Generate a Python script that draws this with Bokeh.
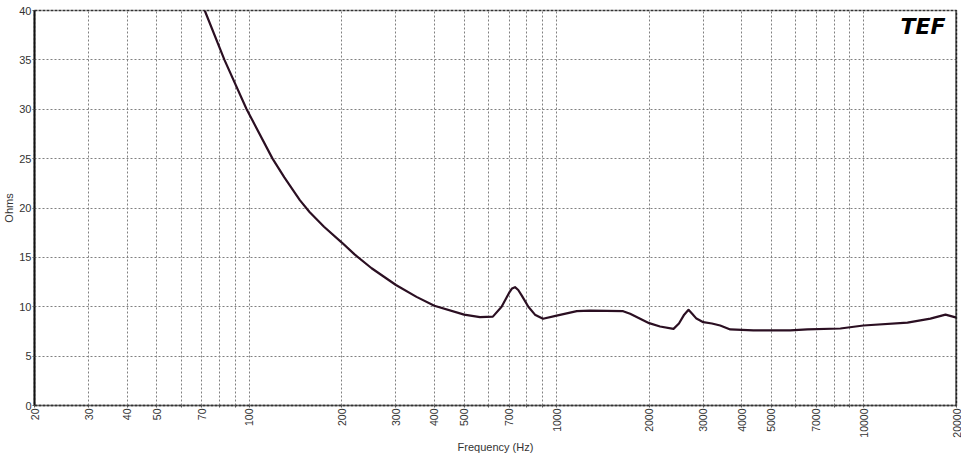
import math
from bokeh.plotting import figure
from bokeh.models import FixedTicker, Label, Span, ColumnDataSource
from bokeh.embed import file_html
from bokeh.resources import INLINE

# ---- data ----
freq_hz = [65, 71.6, 83, 98, 119, 130, 146, 157, 175, 200, 220, 250, 300, 350, 400, 500, 563, 620,
           662, 700, 716, 732, 750, 771, 809, 850, 903, 1000, 1163, 1285, 1646, 1734,
           2000, 2170, 2400, 2500, 2600, 2686, 2760, 2850, 3000, 3200, 3405, 3672, 4366,
           5756, 6540, 8380, 9955, 13850, 16450, 18420, 20000]
impedance_ohms = [43.5, 40.0, 35.0, 30.0, 25.0, 23.1, 20.8, 19.6, 18.1, 16.5, 15.3, 13.9, 12.2, 11.0, 10.1, 9.2, 8.95, 9.0,
                  10.0, 11.4, 11.85, 11.98, 11.7, 11.1, 10.0, 9.2, 8.78, 9.1, 9.55, 9.6, 9.55, 9.3,
                  8.34, 8.0, 7.76, 8.3, 9.2, 9.69, 9.3, 8.8, 8.44, 8.3, 8.1, 7.7, 7.6,
                  7.6, 7.7, 7.8, 8.1, 8.4, 8.8, 9.2, 8.9]

x_tick_labels = [20, 30, 40, 50, 70, 100, 200, 300, 400, 500, 700, 1000,
                 2000, 3000, 4000, 5000, 7000, 10000, 20000]
x_minor_ticks = [60, 80, 90, 600, 800, 900, 6000, 8000, 9000]
y_ticks = [0, 5, 10, 15, 20, 25, 30, 35, 40]
x_limits = (20, 20000)
y_limits = (0, 40)

FONT = "Liberation Sans"
GRID = "#808080"

p = figure(width=961, height=455, x_axis_type="log",
           x_range=x_limits, y_range=y_limits,
           output_backend="svg", toolbar_location=None,
           min_border_left=0, min_border_right=5, min_border_top=10, min_border_bottom=0,
           background_fill_color="white", border_fill_color="white")

src = ColumnDataSource(dict(f=freq_hz, z=impedance_ohms))
p.line("f", "z", source=src, line_color="#2b0f22", line_width=2.2, line_join="round")

# axes
p.xaxis.ticker = FixedTicker(ticks=x_tick_labels, minor_ticks=x_minor_ticks)
p.yaxis.ticker = FixedTicker(ticks=y_ticks, minor_ticks=[])
p.xaxis.major_label_overrides = {t: str(t) for t in x_tick_labels}
p.xaxis.major_label_orientation = math.pi / 2
p.xaxis.axis_label = "Frequency (Hz)"
p.yaxis.axis_label = "Ohms"

for ax in (p.xaxis[0], p.yaxis[0]):
    ax.major_label_text_font = FONT
    ax.major_label_text_font_size = "10.5px"
    ax.major_label_text_color = "#333333"
    ax.axis_label_text_font = FONT
    ax.axis_label_text_font_size = "11px"
    ax.axis_label_text_font_style = "normal"
    ax.axis_label_text_color = "#333333"
    ax.major_tick_in = 0
    ax.major_tick_out = 2
    ax.minor_tick_in = 0
    ax.minor_tick_out = 2
    ax.major_tick_line_color = "#555555"
    ax.minor_tick_line_color = "#555555"

p.yaxis.major_label_text_font_size = "11px"
p.yaxis.axis_line_color = "#111111"
p.yaxis.axis_line_width = 2
p.yaxis.major_label_standoff = 1
p.yaxis.axis_label_standoff = 1
p.xaxis.axis_line_color = "#333333"
p.xaxis.axis_line_width = 1.5
p.xaxis.axis_line_dash = "3 1"
p.xaxis.major_label_standoff = 1
p.xaxis.axis_label_standoff = 0

# grid
p.xgrid.grid_line_color = GRID
p.xgrid.grid_line_dash = "2 2"
p.xgrid.minor_grid_line_color = GRID
p.xgrid.minor_grid_line_dash = "2 2"
p.ygrid.grid_line_color = GRID
p.ygrid.grid_line_dash = "2 2"

p.outline_line_color = "#333333"
p.outline_line_width = 1.5
p.outline_line_dash = "3 1"
p.add_layout(Span(location=x_limits[1], dimension="height",
                  line_color="#111111", line_width=2))

# TEF logo
p.add_layout(Label(x=x_limits[1], y=y_limits[1], x_offset=-11, y_offset=-3,
                   text="TEF", text_align="right", text_baseline="top",
                   text_font="DejaVu Sans", text_font_style="bold italic",
                   text_font_size="22px", text_color="black"))

open("out.html", "w").write(file_html(p, INLINE))
